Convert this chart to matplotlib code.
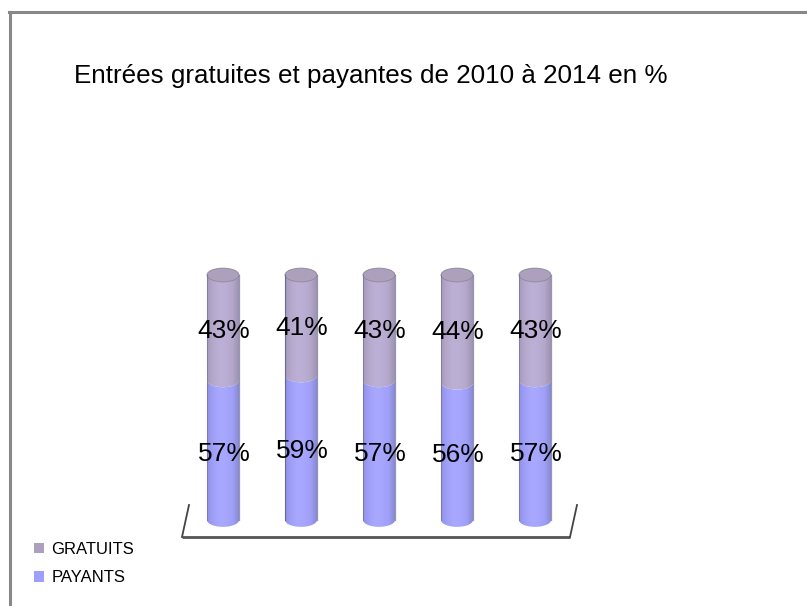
import numpy as np
import matplotlib
matplotlib.use('Agg')
import matplotlib.pyplot as plt
from matplotlib.colors import LinearSegmentedColormap
from matplotlib.lines import Line2D
from matplotlib.patches import Patch, PathPatch, Ellipse
from matplotlib.path import Path

plt.rcParams['font.family'] = ['Liberation Sans', 'DejaVu Sans']

TITLE = 'Entrées gratuites et payantes de 2010 à 2014 en %'
YEARS = [2010, 2011, 2012, 2013, 2014]
PAYANTS = [57, 59, 57, 56, 57]
GRATUITS = [43, 41, 43, 44, 43]

W, H = 807, 606
BAR_W = 0.41      # in category units
CAP_H = 2.8       # half height of the ellipse, in percent units

fig = plt.figure(figsize=(W / 100, H / 100), dpi=100)


def px(x, y):
    return x / W, 1 - y / H


# axes placed so category spacing is 78px and 100% is 245px, with room for the caps
left, bottom = px(184, 532.25)
right, top = px(574, 262.75)
ax = fig.add_axes([left, bottom, right - left, top - bottom])
ax.axis('off')

purple = LinearSegmentedColormap.from_list('p', ['#a79cbc', '#b6a9cc', '#bdb0d6', '#bbaed4', '#b3a7ca', '#a094b4'])
blue = LinearSegmentedColormap.from_list('b', ['#9292e6', '#a0a0fa', '#a8a8ff', '#a6a6ff', '#a0a0f8', '#8a8ad8'])
grad = np.linspace(0, 1, 64).reshape(1, -1)


def segment(x, y0, y1, cmap):
    t = np.linspace(np.pi, 2 * np.pi, 30)
    xs = x + BAR_W / 2 * np.cos(t)
    lower = y0 + CAP_H * np.sin(t)
    upper = y1 + CAP_H * np.sin(t)
    verts = list(zip(xs, lower)) + list(zip(xs[::-1], upper[::-1])) + [(xs[0], lower[0])]
    patch = PathPatch(Path(verts), fc='none', ec='none', transform=ax.transData)
    ax.add_patch(patch)
    im = ax.imshow(grad, cmap=cmap, aspect='auto', zorder=2,
                   extent=[x - BAR_W / 2, x + BAR_W / 2, y0 - CAP_H, y1 + CAP_H])
    im.set_clip_path(patch)


for i, (p, g) in enumerate(zip(PAYANTS, GRATUITS)):
    segment(i, 0, p, blue)
    segment(i, p, p + g, purple)
    ax.add_patch(Ellipse((i, p + g), BAR_W, 2 * CAP_H, fc='#aca0bd', ec='#8a8494', lw=0.6, zorder=3))
    # side shading
    ax.plot([i - BAR_W / 2] * 2, [0, 100], color='#6a6a90', lw=0.8, alpha=0.6 if i != 1 else 1, zorder=3)
    ax.plot([i + BAR_W / 2] * 2, [0, 100], color='#6a6a90', lw=0.9, alpha=0.7, zorder=3)
    ax.text(i + 0.015, p / 2 - 1.5, f'{p}%', ha='center', va='center', fontsize=19, color='black', zorder=5)
    ax.text(i + 0.015, p + g / 2 - 1.2, f'{g}%', ha='center', va='center', fontsize=19, color='black', zorder=5)

ax.set_xlim(-0.5, 4.5)
ax.set_ylim(-5, 105)


def line(xs, ys, **kw):
    pts = [px(a, b) for a, b in zip(xs, ys)]
    fig.add_artist(Line2D([q[0] for q in pts], [q[1] for q in pts], transform=fig.transFigure, **kw))


# picture frame
line([10, 10], [606, 12], color='#888888', lw=2.2)
line([9, 807], [12, 12], color='#888888', lw=2.2)

# floor
line([182, 570], [537, 537], color='#555555', lw=2, solid_capstyle='butt')
line([182, 189], [537, 505], color='#444444', lw=1.3)
line([570, 577], [537, 505], color='#444444', lw=1.3)

fig.text(74 / W, 1 - 83 / H, TITLE, fontsize=18.75, color='black', ha='left', va='baseline')

handles = [Patch(fc='#ad9fc0', ec='none'), Patch(fc='#9e9eff', ec='none')]
fig.legend(handles, ['GRATUITS', 'PAYANTS'], loc='lower left', bbox_to_anchor=px(22, 597),
           frameon=False, fontsize=12, handlelength=0.6, handleheight=0.6,
           handletextpad=0.45, labelspacing=0.8, borderpad=0.2)

fig.savefig('out.png', dpi=100)
